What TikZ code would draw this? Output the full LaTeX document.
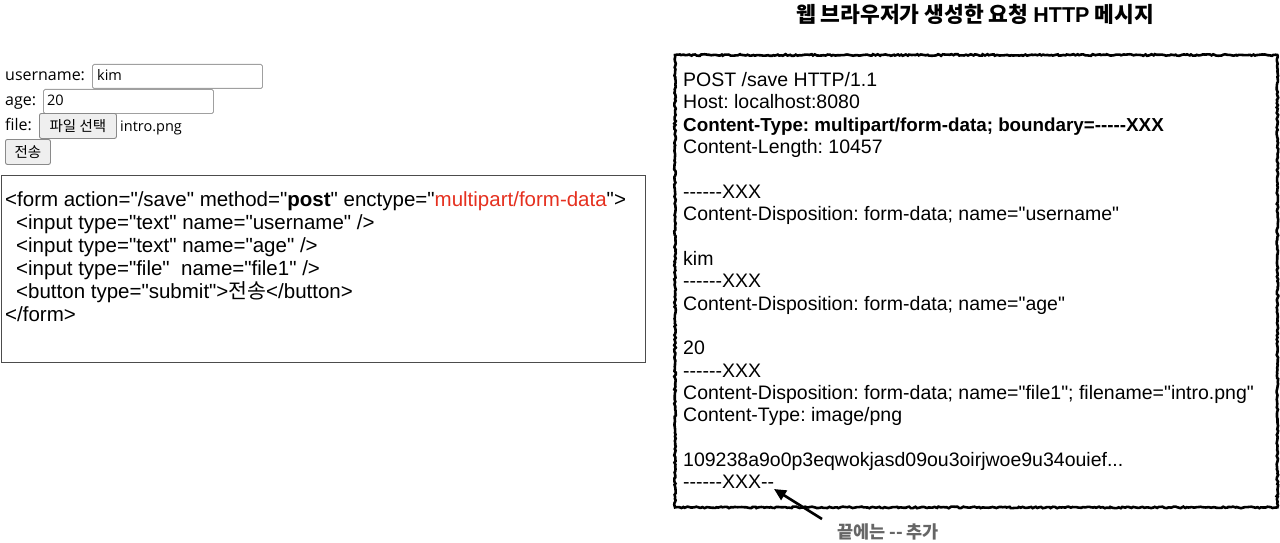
\documentclass[tikz,border=0pt]{standalone}
\usepackage{fontspec}
\setmainfont{Liberation Sans}[Ligatures=TeXOff]
\newfontfamily\kr{Noto Sans CJK KR}[Ligatures=TeXOff]
\newfontfamily\osans{Open Sans}[Ligatures=TeXOff]
\usetikzlibrary{arrows.meta,decorations.pathmorphing}
\definecolor{codered}{HTML}{E5301F}
\definecolor{notegray}{HTML}{666666}
\definecolor{btnfill}{HTML}{EFEFEF}
\definecolor{btnline}{HTML}{8A8A8A}
\definecolor{inline}{HTML}{A0A0A0}
\frenchspacing
\tikzset{
  httpline/.style={anchor=base west, inner sep=0pt, font=\fontsize{19.5}{22}\selectfont},
  codeline/.style={anchor=base west, inner sep=0pt, font=\fontsize{20.5}{23}\selectfont},
  formlbl/.style={anchor=base west, inner sep=0pt, font=\osans\fontsize{16}{19}\selectfont},
  intext/.style={anchor=base west, inner sep=0pt, font=\osans\fontsize{14.5}{17}\selectfont},
  inbox/.style={draw=inline, fill=white, rounded corners=1.5pt, line width=0.9pt, anchor=north west, inner sep=0pt},
  btnbox/.style={draw=btnline, fill=btnfill, rounded corners=2pt, line width=0.9pt, anchor=north west, inner sep=0pt, font=\kr\fontsize{14.5}{17}\selectfont},
  roughline/.style={line width=2.6pt, decorate, decoration={random steps, segment length=2pt, amplitude=0.8pt}},
}
\begin{document}
\begin{tikzpicture}[x=1pt, y=-1pt]
\pgfmathsetseed{7}
\useasboundingbox (0,0) rectangle (1280,543);

% ---------- browser form ----------
\node[formlbl] (ulbl) at (5,81) {username:};
\node[inbox, minimum width=170pt, minimum height=24pt] (uin) at (92,64) {};
\node[intext] (uval) at (97,81) {kim};
\node[formlbl] (albl) at (5,105) {age:};
\node[inbox, minimum width=170pt, minimum height=24pt] (ain) at (43,89) {};
\node[intext] (aval) at (47,106) {20};
\node[formlbl] (flbl) at (5,130) {file:};
\node[btnbox, minimum width=77pt, minimum height=25pt] (fbtn) at (39,113) {파일 선택};
\node[intext] (fname) at (120,131) {intro.png};
\node[btnbox, minimum width=45pt, minimum height=25pt] (sbtn) at (5,139) {전송};

% ---------- html code box ----------
\node[draw=black!70, line width=0.9pt, anchor=north west, minimum width=644pt, minimum height=187pt, inner sep=0pt] (codebox) at (1,175) {};
\node[codeline] (c1) at (5,206.5) {<form action="/save" method="\textbf{post}" enctype="\textcolor{codered}{multipart/form-data}">};
\node[codeline] (c2) at (16,229.5) {<input type="text" name="username" />};
\node[codeline] (c3) at (16,252.5) {<input type="text" name="age" />};
\node[codeline] (c4) at (16,275.5) {<input type="file"\ \ name="file1" />};
\node[codeline] (c5) at (16,298.5) {<button type="submit">{\kr 전송}</button>};
\node[codeline] (c6) at (5,321.5) {</form>};

% ---------- HTTP message ----------
\node[font=\kr\bfseries\fontsize{21.5}{25}\selectfont, inner sep=0pt] (title) at (975,14) {웹 브라우저가 생성한 요청 {\rmfamily\bfseries HTTP} 메시지};
\node[anchor=north west, minimum width=602pt, minimum height=452pt, inner sep=0pt] (msg) at (675,55) {};
\draw[roughline] (msg.north west) rectangle (msg.south east);

\node[httpline] (h1)  at (683,86.5)  {POST /save HTTP/1.1};
\node[httpline] (h2)  at (683,108.9) {Host: localhost:8080};
\node[httpline, font=\bfseries\fontsize{18.8}{22}\selectfont] (h3)  at (683,131.2) {Content-Type: multipart/form-data; boundary=-----XXX};
\node[httpline] (h4)  at (683,153.6) {Content-Length: 10457};
\node[httpline] (h6)  at (683,198.3) {------XXX};
\node[httpline] (h7)  at (683,220.6) {Content-Disposition: form-data; name="username"};
\node[httpline] (h9)  at (683,265.3) {kim};
\node[httpline] (h10) at (683,287.7) {------XXX};
\node[httpline] (h11) at (683,310.0) {Content-Disposition: form-data; name="age"};
\node[httpline] (h13) at (683,354.7) {20};
\node[httpline] (h14) at (683,377.1) {------XXX};
\node[httpline] (h15) at (683,399.4) {Content-Disposition: form-data; name="file1"; filename="intro.png"};
\node[httpline] (h16) at (683,421.8) {Content-Type: image/png};
\node[httpline] (h18) at (683,466.5) {109238a9o0p3eqwokjasd09ou3oirjwoe9u34ouief...};
\node[httpline] (h19) at (683,488.8) {------XXX--};

% ---------- note + arrow ----------
\node[font=\kr\bfseries\fontsize{17.5}{20}\selectfont, text=notegray, inner sep=0pt] (note) at (888,532) {끝에는 -- 추가};
\coordinate (arrS) at (822,519);
\coordinate (arrE) at (774,489);
\draw[line width=2.6pt, -{Triangle[length=12pt,width=11pt]}] (arrS) -- (arrE);
\end{tikzpicture}
\end{document}
